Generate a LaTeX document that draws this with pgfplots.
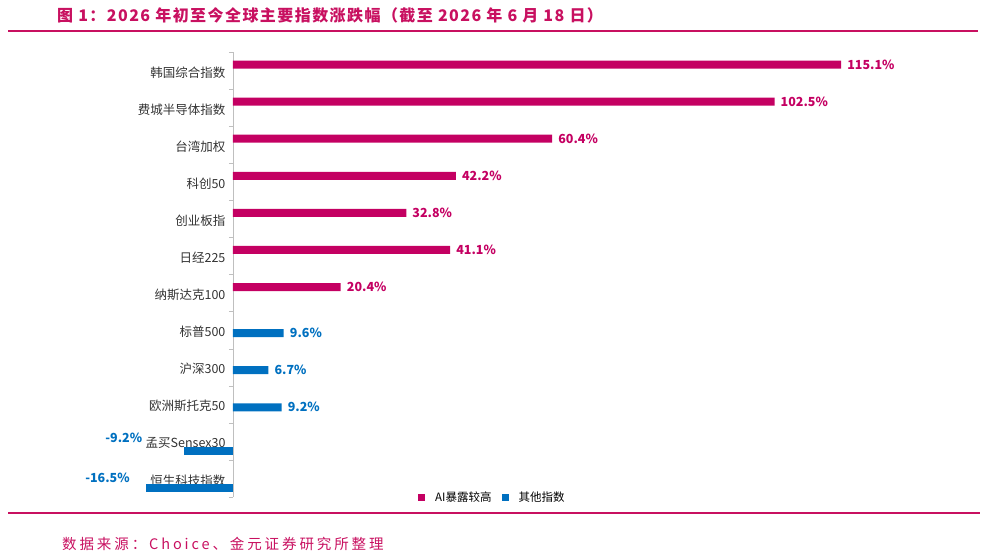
\documentclass[border=0pt]{standalone}
\usepackage{fontspec}
\setmainfont{Noto Sans CJK SC}
\newfontfamily\ttlfont[LetterSpace=9]{Noto Sans CJK SC}
\newfontfamily\srcfont[LetterSpace=20]{Noto Sans CJK SC}
\usepackage{pgfplots}
\pgfplotsset{compat=1.18}
\definecolor{ai}{RGB}{196,0,98}
\definecolor{oth}{RGB}{0,112,192}
\definecolor{ttl}{RGB}{200,16,96}
\definecolor{axgray}{RGB}{191,191,191}
\begin{document}
\begin{tikzpicture}[x=1pt,y=1pt]
\path[use as bounding box] (0,0) rectangle (986,-557);
\node[anchor=west, text=ttl, inner sep=0pt, font=\ttlfont\fontsize{16}{18}\selectfont\bfseries] at (57,-15) {图 1：2026 年初至今全球主要指数涨跌幅（截至 2026 年 6 月 18 日）};
\draw[ttl, line width=2] (8,-31) -- (978,-31);
\draw[ttl, line width=2] (8,-513) -- (980,-513);
\node[anchor=west, text=ttl, inner sep=0pt, font=\srcfont\fontsize{14.5}{16}\selectfont] at (62,-544) {数据来源：Choice、金元证券研究所整理};
\begin{axis}[
  at={(523.55pt,-274.5pt)}, anchor=center,
  scale only axis, width=792.5pt, height=445pt,
  xmin=-20, xmax=130, ymin=0.5, ymax=12.5,
  y dir=reverse,
  axis x line=none, axis y line=center,
  y axis line style={draw=axgray, -},
  ytick={1,...,12},
  yticklabels={韩国综合指数,费城半导体指数,台湾加权,科创50,创业板指,日经225,纳斯达克100,标普500,沪深300,欧洲斯托克50,孟买Sensex30,恒生科技指数},
  major tick length=0pt,
  minor ytick={0.5,1.5,...,12.5},
  minor tick length=4pt,
  tick align=outside,
  minor tick style={draw=axgray},
  yticklabel style={font=\fontsize{12.5}{14}\selectfont, text=black!80, yshift=-2pt, xshift=-4pt},
  clip=false,
  xbar, bar width=8pt,
  point meta=x,
  nodes near coords={\pgfmathprintnumber[fixed,fixed zerofill,precision=1,assume math mode=true]{\pgfplotspointmeta}\%},
  nodes near coords align={horizontal},
  every node near coord/.append style={font=\fontsize{12.5}{14}\selectfont\bfseries, inner xsep=6pt},
  legend style={draw=none, fill=none, at={(0.3668,0)}, anchor=west, font=\fontsize{11.5}{13}\selectfont, legend columns=2, column sep=8pt, inner sep=0pt},
  legend image code/.code={\fill[#1] (0pt,-3.5pt) rectangle (7pt,3.5pt);},
]
\addplot[fill=ai, draw=none, bar shift=6pt, every node near coord/.append style={text=ai}]
  coordinates {(115.1,1) (102.5,2) (60.4,3) (42.2,4) (32.8,5) (41.1,6) (20.4,7)};
\addlegendentry{AI暴露较高}
\addplot[fill=oth, draw=none, bar shift=-3pt, every node near coord/.append style={text=oth}]
  coordinates {(9.6,8) (6.7,9) (9.2,10)};
\addlegendentry{其他指数}
\addplot[forget plot, fill=oth, draw=none, bar shift=-10pt, every node near coord/.append style={text=oth, xshift=-36pt, yshift=14pt}]
  coordinates {(-9.2,11)};
\addplot[forget plot, fill=oth, draw=none, bar shift=-10pt, every node near coord/.append style={text=oth, xshift=-10pt, yshift=11pt}]
  coordinates {(-16.5,12)};
\end{axis}
\end{tikzpicture}
\end{document}
